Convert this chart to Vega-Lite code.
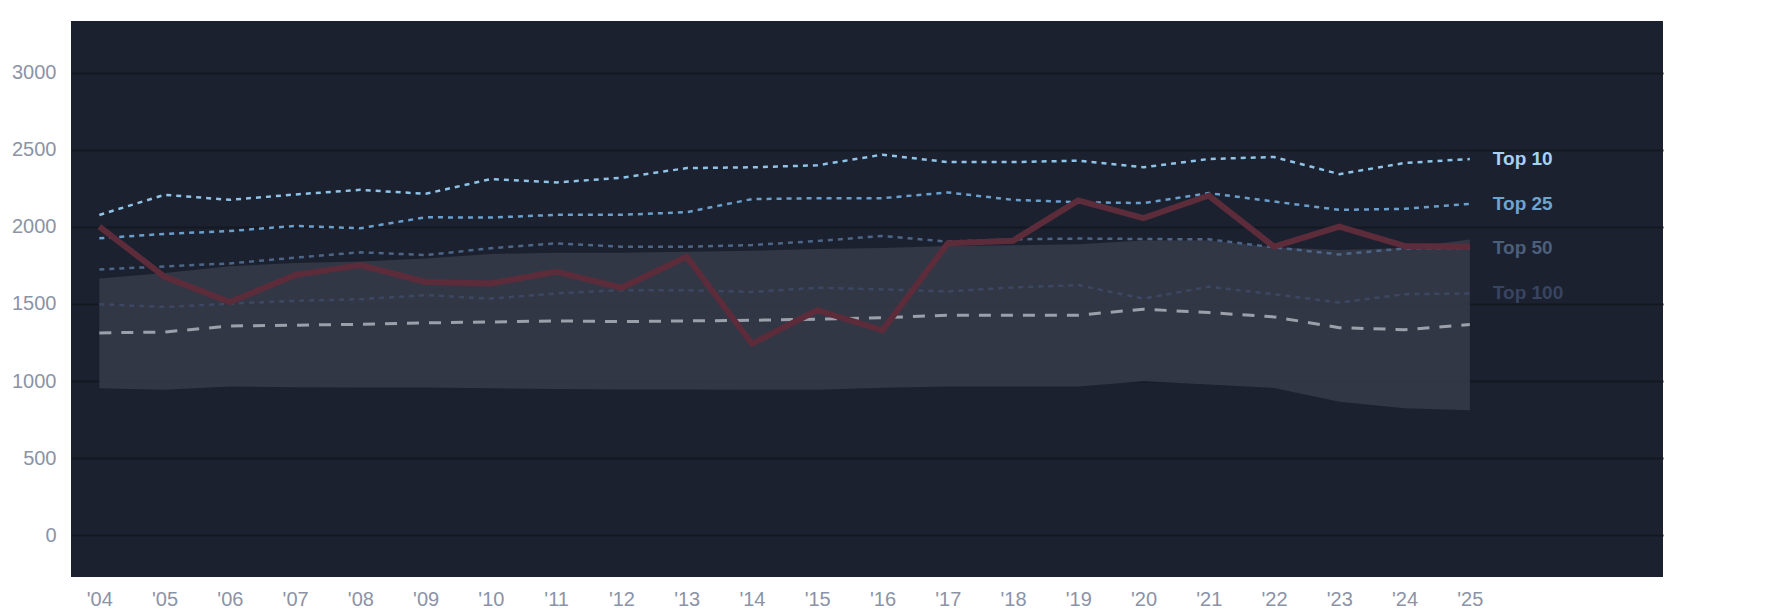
{
  "$schema": "https://vega.github.io/schema/vega-lite/v6.json",
  "autosize": {"type": "none"},
  "padding": {"left": 71, "top": 21, "right": 122, "bottom": 37},
  "width": 1592,
  "height": 556,
  "background": "white",
  "view": {"fill": "#1c2130", "stroke": null},
  "config": {
    "font": "Liberation Sans",
    "axis": {
      "labelFont": "Liberation Sans",
      "labelFontSize": 20,
      "labelColor": "#8b93a7",
      "domain": false,
      "ticks": false,
      "title": null
    }
  },
  "datasets": {
    "stats": [
      {"year": 2004, "Top 10": 2077, "Top 25": 1926, "Top 50": 1724, "Top 100": 1498, "median": 1312, "lo": 953, "hi": 1665, "player": 2002},
      {"year": 2005, "Top 10": 2208, "Top 25": 1954, "Top 50": 1743, "Top 100": 1481, "median": 1318, "lo": 943, "hi": 1700, "player": 1676},
      {"year": 2006, "Top 10": 2175, "Top 25": 1973, "Top 50": 1763, "Top 100": 1502, "median": 1357, "lo": 964, "hi": 1745, "player": 1513},
      {"year": 2007, "Top 10": 2210, "Top 25": 2006, "Top 50": 1800, "Top 100": 1520, "median": 1362, "lo": 960, "hi": 1765, "player": 1687},
      {"year": 2008, "Top 10": 2240, "Top 25": 1991, "Top 50": 1835, "Top 100": 1531, "median": 1368, "lo": 958, "hi": 1775, "player": 1752},
      {"year": 2009, "Top 10": 2214, "Top 25": 2062, "Top 50": 1817, "Top 100": 1557, "median": 1377, "lo": 958, "hi": 1795, "player": 1643},
      {"year": 2010, "Top 10": 2310, "Top 25": 2060, "Top 50": 1861, "Top 100": 1535, "median": 1383, "lo": 953, "hi": 1824, "player": 1633},
      {"year": 2011, "Top 10": 2288, "Top 25": 2078, "Top 50": 1893, "Top 100": 1568, "median": 1390, "lo": 949, "hi": 1832, "player": 1709},
      {"year": 2012, "Top 10": 2318, "Top 25": 2078, "Top 50": 1871, "Top 100": 1589, "median": 1385, "lo": 945, "hi": 1832, "player": 1605},
      {"year": 2013, "Top 10": 2381, "Top 25": 2095, "Top 50": 1871, "Top 100": 1589, "median": 1390, "lo": 945, "hi": 1839, "player": 1806},
      {"year": 2014, "Top 10": 2386, "Top 25": 2180, "Top 50": 1882, "Top 100": 1578, "median": 1394, "lo": 943, "hi": 1845, "player": 1242},
      {"year": 2015, "Top 10": 2399, "Top 25": 2186, "Top 50": 1908, "Top 100": 1605, "median": 1401, "lo": 943, "hi": 1856, "player": 1459},
      {"year": 2016, "Top 10": 2468, "Top 25": 2186, "Top 50": 1941, "Top 100": 1594, "median": 1411, "lo": 956, "hi": 1863, "player": 1329},
      {"year": 2017, "Top 10": 2420, "Top 25": 2223, "Top 50": 1904, "Top 100": 1581, "median": 1427, "lo": 964, "hi": 1875, "player": 1893},
      {"year": 2018, "Top 10": 2420, "Top 25": 2175, "Top 50": 1919, "Top 100": 1607, "median": 1427, "lo": 964, "hi": 1880, "player": 1910},
      {"year": 2019, "Top 10": 2429, "Top 25": 2160, "Top 50": 1924, "Top 100": 1622, "median": 1427, "lo": 964, "hi": 1887, "player": 2171},
      {"year": 2020, "Top 10": 2386, "Top 25": 2154, "Top 50": 1921, "Top 100": 1535, "median": 1466, "lo": 999, "hi": 1912, "player": 2056},
      {"year": 2021, "Top 10": 2440, "Top 25": 2219, "Top 50": 1919, "Top 100": 1611, "median": 1444, "lo": 977, "hi": 1912, "player": 2203},
      {"year": 2022, "Top 10": 2453, "Top 25": 2164, "Top 50": 1867, "Top 100": 1563, "median": 1416, "lo": 955, "hi": 1868, "player": 1871},
      {"year": 2023, "Top 10": 2342, "Top 25": 2110, "Top 50": 1821, "Top 100": 1509, "median": 1346, "lo": 866, "hi": 1850, "player": 2002},
      {"year": 2024, "Top 10": 2414, "Top 25": 2117, "Top 50": 1860, "Top 100": 1563, "median": 1333, "lo": 824, "hi": 1862, "player": 1876},
      {"year": 2025, "Top 10": 2440, "Top 25": 2149, "Top 50": 1862, "Top 100": 1568, "median": 1366, "lo": 810, "hi": 1918, "player": 1871}
    ]
  },
  "data": {"name": "stats"},
  "encoding": {
    "x": {
      "field": "year",
      "type": "quantitative",
      "scale": {"domain": [2003.566, 2027.96], "nice": false, "zero": false},
      "axis": {
        "values": [2004, 2005, 2006, 2007, 2008, 2009, 2010, 2011, 2012, 2013, 2014, 2015, 2016, 2017, 2018, 2019, 2020, 2021, 2022, 2023, 2024, 2025],
        "labelExpr": "\"'\" + substring(toString(datum.value), 2)",
        "grid": false,
        "labelPadding": 12
      }
    }
  },
  "layer": [
    {
      "mark": {"type": "area", "color": "#363b4a", "opacity": 0.85},
      "encoding": {
        "y": {
          "field": "lo",
          "type": "quantitative",
          "scale": {"domain": [-271, 3335], "nice": false, "zero": false},
          "axis": {
            "values": [0, 500, 1000, 1500, 2000, 2500, 3000],
            "format": "d",
            "grid": true,
            "gridColor": "#141821",
            "gridWidth": 2,
            "labelPadding": 15
          }
        },
        "y2": {"field": "hi"}
      }
    },
    {
      "transform": [{"fold": ["Top 10", "Top 25", "Top 50", "Top 100"], "as": ["series", "value"]}],
      "mark": {"type": "line", "strokeWidth": 2.5, "strokeDash": [5, 5]},
      "encoding": {
        "y": {"field": "value", "type": "quantitative"},
        "detail": {"field": "series"},
        "color": {
          "field": "series",
          "type": "nominal",
          "scale": {
            "domain": ["Top 10", "Top 25", "Top 50", "Top 100"],
            "range": ["#8fc4e8", "#6a9fcc", "#4d6586", "#3c4862"]
          },
          "legend": null
        }
      }
    },
    {
      "mark": {"type": "line", "color": "#9ca0aa", "strokeWidth": 3, "strokeDash": [12, 10]},
      "encoding": {"y": {"field": "median", "type": "quantitative"}}
    },
    {
      "mark": {"type": "line", "color": "#5c2c3b", "strokeWidth": 6, "strokeJoin": "miter"},
      "encoding": {"y": {"field": "player", "type": "quantitative"}}
    },
    {
      "transform": [
        {"filter": "datum.year == 2025"},
        {"fold": ["Top 10", "Top 25", "Top 50", "Top 100"], "as": ["series", "value"]}
      ],
      "mark": {"type": "text", "align": "left", "baseline": "middle", "dx": 23, "fontSize": 19, "fontWeight": "bold", "font": "Liberation Sans"},
      "encoding": {
        "y": {"field": "value", "type": "quantitative"},
        "text": {"field": "series"},
        "color": {
          "field": "series",
          "type": "nominal",
          "scale": {
            "domain": ["Top 10", "Top 25", "Top 50", "Top 100"],
            "range": ["#a6d2f2", "#6fa4d1", "#4b5f7d", "#384460"]
          },
          "legend": null
        }
      }
    }
  ],
  "resolve": {"scale": {"color": "independent"}}
}
